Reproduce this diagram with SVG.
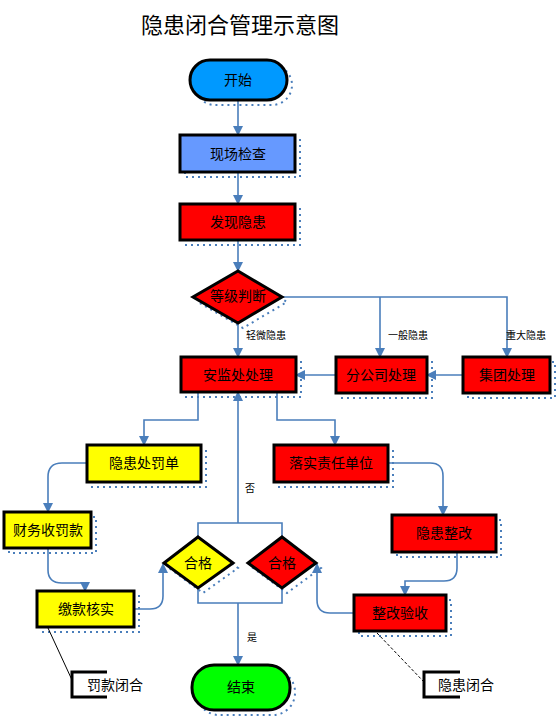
<svg xmlns="http://www.w3.org/2000/svg" width="560" height="720" viewBox="0 0 560 720">
<style>
.box{stroke:#000;stroke-width:3}
.sh{fill:none;stroke:#4a7ebb;stroke-width:2;stroke-dasharray:2 4}
.red{fill:#ff0000}
.yel{fill:#ffff00}
.t{font-family:"Noto Sans CJK SC","Noto Sans",sans-serif;font-size:14px;text-anchor:middle;fill:#000}
.s{font-family:"Noto Sans CJK SC","Noto Sans",sans-serif;font-size:10px;fill:#000}
.c{fill:none;stroke:#4a7ebb;stroke-width:1.6}
.call{fill:none;stroke:#000;stroke-width:1}
.br{fill:none;stroke:#000;stroke-width:3}
</style>
<defs>
<marker id="ah" markerWidth="10" markerHeight="10" refX="9" refY="5" orient="auto" markerUnits="userSpaceOnUse">
<path d="M0,0 L10,5 L0,10 Z" fill="#4a7ebb"/>
</marker>
</defs>
<rect width="560" height="720" fill="#fff"/>
<text x="240" y="33" font-family="Noto Sans CJK SC,sans-serif" font-size="22" text-anchor="middle" fill="#000">隐患闭合管理示意图</text>

<g id="connectors">
<path class="c" d="M238,100 V135" marker-end="url(#ah)"/>
<path class="c" d="M238,172 V204" marker-end="url(#ah)"/>
<path class="c" d="M238,240 V271" marker-end="url(#ah)"/>
<path class="c" d="M238,323 V357" marker-end="url(#ah)"/>
<path class="c" d="M282,297 H507 V357" marker-end="url(#ah)"/>
<path class="c" d="M380,297 V357" marker-end="url(#ah)"/>
<path class="c" d="M463,375 H427" marker-end="url(#ah)"/>
<path class="c" d="M336,375 H296" marker-end="url(#ah)"/>
<path class="c" d="M198,392 V420 H144 V445" marker-end="url(#ah)"/>
<path class="c" d="M277,392 V420 H335 V445" marker-end="url(#ah)"/>
<path class="c" d="M238,523 V392" marker-end="url(#ah)"/>
<path class="c" d="M198,537 V523 H282 V537"/>
<path class="c" d="M198,588 V603 H282 V588"/>
<path class="c" d="M238,603 V665" marker-end="url(#ah)"/>
<path class="c" d="M87,463 H62 Q48,463 48,477 V512" marker-end="url(#ah)"/>
<path class="c" d="M48,548 V570 Q48,583 62,583 H85 V591" marker-end="url(#ah)"/>
<path class="c" d="M134,609 H150 Q163,609 163,596 V564" marker-end="url(#ah)"/>
<path class="c" d="M388,463 H430 Q443,463 443,476 V515" marker-end="url(#ah)"/>
<path class="c" d="M457,552 V568 Q457,581 444,581 H405 V595" marker-end="url(#ah)"/>
<path class="c" d="M354,613 H330 Q317,613 317,600 V564" marker-end="url(#ah)"/>
<text class="s" x="246" y="339">轻微隐患</text>
<text class="s" x="388" y="339">一般隐患</text>
<text class="s" x="506" y="339">重大隐患</text>
<text class="s" x="245" y="492">否</text>
<text class="s" x="247" y="641">是</text>
</g>

<g id="start">
<rect class="sh" x="195" y="65" width="97" height="40" rx="20"/>
<rect class="box" x="190" y="60" width="97" height="40" rx="20" fill="#0099ff"/>
<text class="t" x="238" y="85">开始</text>
</g>
<g id="inspect">
<rect class="sh" x="185" y="140" width="115" height="37"/>
<rect class="box" x="180" y="135" width="115" height="37" fill="#6699ff"/>
<text class="t" x="238" y="159">现场检查</text>
</g>
<g id="find">
<rect class="sh" x="185" y="209" width="115" height="36"/>
<rect class="box red" x="180" y="204" width="115" height="36"/>
<text class="t" x="238" y="227">发现隐患</text>
</g>
<g id="judge">
<polygon class="sh" points="243,276 287,302 243,328 198,302"/>
<polygon class="box red" points="238,271 282,297 238,323 193,297"/>
<text class="t" x="238" y="301" font-size="12">等级判断</text>
</g>
<g id="anjian">
<rect class="sh" x="186" y="362" width="115" height="35"/>
<rect class="box red" x="181" y="357" width="115" height="35"/>
<text class="t" x="238" y="380">安监处处理</text>
</g>
<g id="branch">
<rect class="sh" x="341" y="362" width="91" height="36"/>
<rect class="box red" x="336" y="357" width="91" height="36"/>
<text class="t" x="381" y="380">分公司处理</text>
</g>
<g id="group">
<rect class="sh" x="468" y="362" width="87" height="36"/>
<rect class="box red" x="463" y="357" width="87" height="36"/>
<text class="t" x="507" y="380">集团处理</text>
</g>
<g id="penalty">
<rect class="sh" x="92" y="450" width="114" height="37"/>
<rect class="box yel" x="87" y="445" width="114" height="37"/>
<text class="t" x="144" y="468">隐患处罚单</text>
</g>
<g id="finance">
<rect class="sh" x="9" y="517" width="87" height="36"/>
<rect class="box yel" x="4" y="512" width="87" height="36"/>
<text class="t" x="48" y="535">财务收罚款</text>
</g>
<g id="verify">
<rect class="sh" x="42" y="596" width="97" height="36"/>
<rect class="box yel" x="37" y="591" width="97" height="36"/>
<text class="t" x="86" y="614">缴款核实</text>
</g>
<g id="ok1">
<polygon class="sh" points="203,542 238,568 203,593 169,568"/>
<polygon class="box yel" points="198,537 233,563 198,588 164,563"/>
<text class="t" x="198" y="568">合格</text>
</g>
<g id="ok2">
<polygon class="sh" points="287,542 321,568 287,593 253,568"/>
<polygon class="box red" points="282,537 316,563 282,588 248,563"/>
<text class="t" x="282" y="568">合格</text>
</g>
<g id="assign">
<rect class="sh" x="279" y="450" width="114" height="37"/>
<rect class="box red" x="274" y="445" width="114" height="37"/>
<text class="t" x="331" y="468">落实责任单位</text>
</g>
<g id="rectify">
<rect class="sh" x="397" y="520" width="104" height="37"/>
<rect class="box red" x="392" y="515" width="104" height="37"/>
<text class="t" x="444" y="538">隐患整改</text>
</g>
<g id="accept">
<rect class="sh" x="359" y="600" width="92" height="36"/>
<rect class="box red" x="354" y="595" width="92" height="36"/>
<text class="t" x="400" y="618">整改验收</text>
</g>
<g id="end">
<rect class="sh" x="197" y="670" width="98" height="45" rx="22"/>
<rect class="box" x="192" y="665" width="98" height="45" rx="22" fill="#00ff00"/>
<text class="t" x="241" y="692">结束</text>
</g>
<g id="note1">
<path class="call" d="M48,628 L72,680"/>
<path class="br" d="M107,672 H72 V697 H107"/>
<text class="t" x="115" y="690">罚款闭合</text>
</g>
<g id="note2">
<path class="call" d="M377,633 L424,682" stroke-dasharray="3 2"/>
<path class="br" d="M460,672 H424 V697 H460"/>
<text class="t" x="466" y="690">隐患闭合</text>
</g>
</svg>
